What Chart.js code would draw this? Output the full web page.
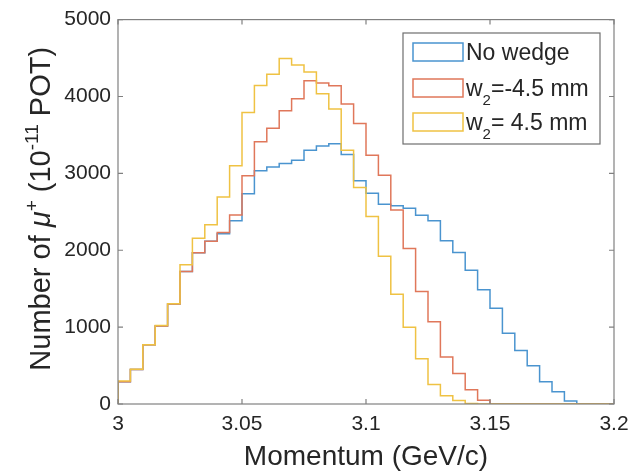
<!DOCTYPE html>
<html>
<head>
<meta charset="utf-8">
<script src="https://cdn.jsdelivr.net/npm/chart.js@4.4.1/dist/chart.umd.min.js"></script>
<style>
  html, body { margin: 0; padding: 0; background: #ffffff; }
  #wrap { width: 640px; height: 476px; position: relative; }
</style>
</head>
<body>
<div id="wrap"><canvas id="momentumChart"></canvas></div>
<script>
// bin edges of the momentum histogram (GeV/c)
const binEdges = [
  3.000, 3.005, 3.010, 3.015, 3.020, 3.025, 3.030, 3.035, 3.040, 3.045,
  3.050, 3.055, 3.060, 3.065, 3.070, 3.075, 3.080, 3.085, 3.090, 3.095,
  3.100, 3.105, 3.110, 3.115, 3.120, 3.125, 3.130, 3.135, 3.140, 3.145,
  3.150, 3.155, 3.160, 3.165, 3.170, 3.175, 3.180, 3.185, 3.190, 3.195,
  3.200
];

// counts per bin
const noWedge = [
  80, 290, 450, 770, 1015, 1300, 1725, 1966, 2116, 2215,
  2385, 2735, 3035, 3084, 3127, 3170, 3299, 3355, 3385, 3245,
  2905, 2740, 2598, 2580, 2545, 2455, 2383, 2125, 1972, 1740,
  1487, 1245, 920, 697, 497, 288, 159, 38, 0, 0
];
const wedgeMinus = [
  80, 290, 450, 770, 1015, 1300, 1725, 1966, 2116, 2232,
  2460, 2970, 3410, 3587, 3815, 3970, 4205, 4175, 4138, 3901,
  3648, 3235, 2977, 2525, 2022, 1462, 1071, 610, 396, 185,
  48, 0, 0, 0, 0, 0, 0, 0, 0, 0
];
const wedgePlus = [
  90, 300, 452, 772, 1020, 1303, 1810, 2155, 2330, 2693,
  3100, 3790, 4142, 4288, 4493, 4410, 4318, 4035, 3836, 3299,
  2815, 2439, 1923, 1428, 998, 589, 254, 108, 45, 8,
  0, 0, 0, 0, 0, 0, 0, 0, 0, 0
];

const seriesLabels = ["No wedge", "w₂=-4.5 mm", "w₂= 4.5 mm"];
const seriesColors = ["#4a94cf", "#e0775a", "#efc243"];

const xTicks = [3, 3.05, 3.1, 3.15, 3.2];
const yTicks = [0, 1000, 2000, 3000, 4000, 5000];

const xTitle = "Momentum (GeV/c)";
const yTitleParts = [
  { text: "Number of " },
  { text: "μ", italic: true },
  { text: "+", sup: true },
  { text: " (10" },
  { text: "-11", sup: true },
  { text: " POT)" }
];

const fontFamily = "'Liberation Sans', Arial, Helvetica, sans-serif";
const textColor = "#262626";
const axisColor = "#808080";

function stairPoints(values) {
  const last = binEdges[binEdges.length - 1];
  const points = [{ x: binEdges[0], y: 0 }];
  values.forEach((value, index) => points.push({ x: binEdges[index], y: value }));
  points.push({ x: last, y: values[values.length - 1] });
  points.push({ x: last, y: 0 });
  return points;
}

function drawParts(ctx, parts, size, cx, cy) {
  const fontFor = part => {
    const s = part.sup ? Math.round(size * 0.66) : size;
    return `${part.italic ? "italic " : ""}${s}px ${fontFamily}`;
  };
  let total = 0;
  parts.forEach(part => {
    ctx.font = fontFor(part);
    part.width = ctx.measureText(part.text).width;
    total += part.width;
  });
  let x = cx - total / 2;
  ctx.textAlign = "left";
  ctx.textBaseline = "alphabetic";
  const base = cy + size * 0.36;
  parts.forEach(part => {
    ctx.font = fontFor(part);
    let y = base;
    if (part.sup) y = base - size * 0.42;
    ctx.fillText(part.text, x, y);
    x += part.width;
  });
}

const matlabAxes = {
  id: "matlabAxes",
  afterDraw(chart) {
    const { ctx, chartArea } = chart;
    const xs = chart.scales.x;
    const ys = chart.scales.y;
    const tick = 5;
    ctx.save();

    // box and inward ticks
    ctx.strokeStyle = axisColor;
    ctx.lineWidth = 1.2;
    ctx.strokeRect(chartArea.left, chartArea.top, chartArea.right - chartArea.left, chartArea.bottom - chartArea.top);
    ctx.beginPath();
    xTicks.forEach(value => {
      const px = xs.getPixelForValue(value);
      ctx.moveTo(px, chartArea.bottom);
      ctx.lineTo(px, chartArea.bottom - tick);
      ctx.moveTo(px, chartArea.top);
      ctx.lineTo(px, chartArea.top + tick);
    });
    yTicks.forEach(value => {
      const py = ys.getPixelForValue(value);
      ctx.moveTo(chartArea.left, py);
      ctx.lineTo(chartArea.left + tick, py);
      ctx.moveTo(chartArea.right, py);
      ctx.lineTo(chartArea.right - tick, py);
    });
    ctx.stroke();

    // axis titles
    ctx.fillStyle = textColor;
    ctx.font = `28px ${fontFamily}`;
    ctx.textAlign = "center";
    ctx.textBaseline = "middle";
    ctx.fillText(xTitle, (chartArea.left + chartArea.right) / 2, 457);

    ctx.save();
    ctx.translate(40, (chartArea.top + chartArea.bottom) / 2 - 3);
    ctx.rotate(-Math.PI / 2);
    drawParts(ctx, yTitleParts, 29, 0, 0);
    ctx.restore();

    // legend
    const box = { left: 403, top: 33, right: 600, bottom: 144 };
    ctx.fillStyle = "#ffffff";
    ctx.fillRect(box.left, box.top, box.right - box.left, box.bottom - box.top);
    ctx.strokeStyle = "#6e6e6e";
    ctx.lineWidth = 1.2;
    ctx.strokeRect(box.left, box.top, box.right - box.left, box.bottom - box.top);
    const rows = [52, 88, 122];
    seriesLabels.forEach((label, index) => {
      const cy = rows[index];
      ctx.strokeStyle = seriesColors[index];
      ctx.lineWidth = 1.5;
      ctx.strokeRect(413, cy - 9, 50, 18);
      const parts = [];
      const pieces = label.split("₂");
      parts.push({ text: pieces[0] });
      if (pieces.length > 1) {
        parts.push({ text: "2", sub: true });
        parts.push({ text: pieces[1] });
      }
      ctx.fillStyle = textColor;
      let x = 466;
      ctx.textAlign = "left";
      ctx.textBaseline = "alphabetic";
      parts.forEach(part => {
        const s = part.sub ? 15 : 23;
        ctx.font = `${s}px ${fontFamily}`;
        const y = part.sub ? cy + 17 : cy + 8;
        ctx.fillText(part.text, x, y);
        x += ctx.measureText(part.text).width;
      });
    });

    ctx.restore();
  }
};

const datasets = [noWedge, wedgeMinus, wedgePlus].map((values, index) => ({
  label: seriesLabels[index],
  data: stairPoints(values),
  borderColor: seriesColors[index],
  borderWidth: 1.5,
  pointRadius: 0,
  fill: false,
  stepped: "after",
  order: 2 - index
}));

new Chart(document.getElementById("momentumChart").getContext("2d"), {
  type: "line",
  data: { datasets },
  options: {
    responsive: true,
    maintainAspectRatio: false,
    animation: false,
    layout: { padding: { top: 17, right: 26, left: 0, bottom: 0 } },
    plugins: {
      legend: { display: false },
      tooltip: { enabled: false }
    },
    scales: {
      x: {
        type: "linear",
        min: 3,
        max: 3.2,
        grid: { display: false, drawTicks: false },
        border: { display: false },
        afterBuildTicks: scale => { scale.ticks = xTicks.map(value => ({ value })); },
        afterFit: scale => { scale.height = 72; },
        ticks: {
          padding: 8,
          color: textColor,
          font: { family: fontFamily, size: 21 },
          maxRotation: 0,
          callback: value => String(+value.toFixed(2))
        }
      },
      y: {
        min: 0,
        max: 5000,
        grid: { display: false, drawTicks: false },
        border: { display: false },
        afterBuildTicks: scale => { scale.ticks = yTicks.map(value => ({ value })); },
        afterFit: scale => { scale.width = 118; },
        ticks: {
          padding: 7,
          color: textColor,
          font: { family: fontFamily, size: 21 },
          callback: value => String(value)
        }
      }
    }
  },
  plugins: [matlabAxes]
});
</script>
</body>
</html>
